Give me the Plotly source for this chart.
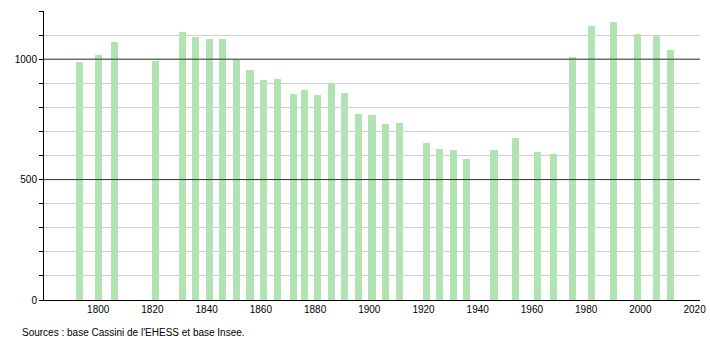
import plotly.graph_objects as go

years = [1793, 1800, 1806, 1821, 1831, 1836, 1841, 1846, 1851, 1856, 1861, 1866,
         1872, 1876, 1881, 1886, 1891, 1896, 1901, 1906, 1911, 1921, 1926, 1931,
         1936, 1946, 1954, 1962, 1968, 1975, 1982, 1990, 1999, 2006, 2011]
population = [987, 1016, 1073, 994, 1111, 1091, 1084, 1084, 1001, 953, 912, 919,
              857, 873, 852, 899, 861, 773, 768, 732, 736, 651, 628, 624,
              584, 624, 671, 615, 607, 1010, 1139, 1156, 1106, 1095, 1040]

x_ticks = [1800, 1820, 1840, 1860, 1880, 1900, 1920, 1940, 1960, 1980, 2000, 2020]
y_ticks = list(range(0, 1201, 100))
y_labels = ["0" if v == 0 else ("500" if v == 500 else ("1000" if v == 1000 else "")) for v in y_ticks]
major_lines = [500, 1000]
source = "Sources : base Cassini de l'EHESS et base Insee."

fig = go.Figure()
fig.add_trace(go.Bar(x=years, y=population, width=2.6,
                     marker=dict(color="#b2e3b2", line=dict(width=0)),
                     hoverinfo="x+y"))

for v in major_lines:
    fig.add_shape(type="line", xref="paper", x0=0, x1=1, yref="y", y0=v, y1=v,
                  line=dict(color="#333333", width=1), layer="above")

fig.add_annotation(text=source, xref="paper", yref="paper", x=-0.036, y=-0.088,
                   xanchor="left", yanchor="top", showarrow=False,
                   font=dict(size=10, color="#000000", family="Liberation Sans, Arial, sans-serif"))

fig.update_layout(
    width=710, height=340,
    margin=dict(l=44, r=10, t=11, b=40, autoexpand=False),
    plot_bgcolor="white", paper_bgcolor="white",
    showlegend=False,
    font=dict(family="Liberation Sans, Arial, sans-serif", size=10, color="#000000"),
    bargap=0,
)
fig.update_xaxes(range=[1780, 2022], tickvals=x_ticks, showgrid=False,
                 showline=True, linecolor="#000000", linewidth=1, automargin=False,
                 ticks="", tickfont=dict(size=10), zeroline=False)
fig.update_yaxes(range=[0, 1200], tickvals=y_ticks, ticktext=y_labels,
                 showgrid=True, gridcolor="#d0d0d0", gridwidth=1, automargin=False,
                 showline=True, linecolor="#000000", linewidth=1,
                 ticks="outside", ticklen=4, tickcolor="#000000",
                 tickfont=dict(size=10), zeroline=False)

fig.write_html("out.html")
